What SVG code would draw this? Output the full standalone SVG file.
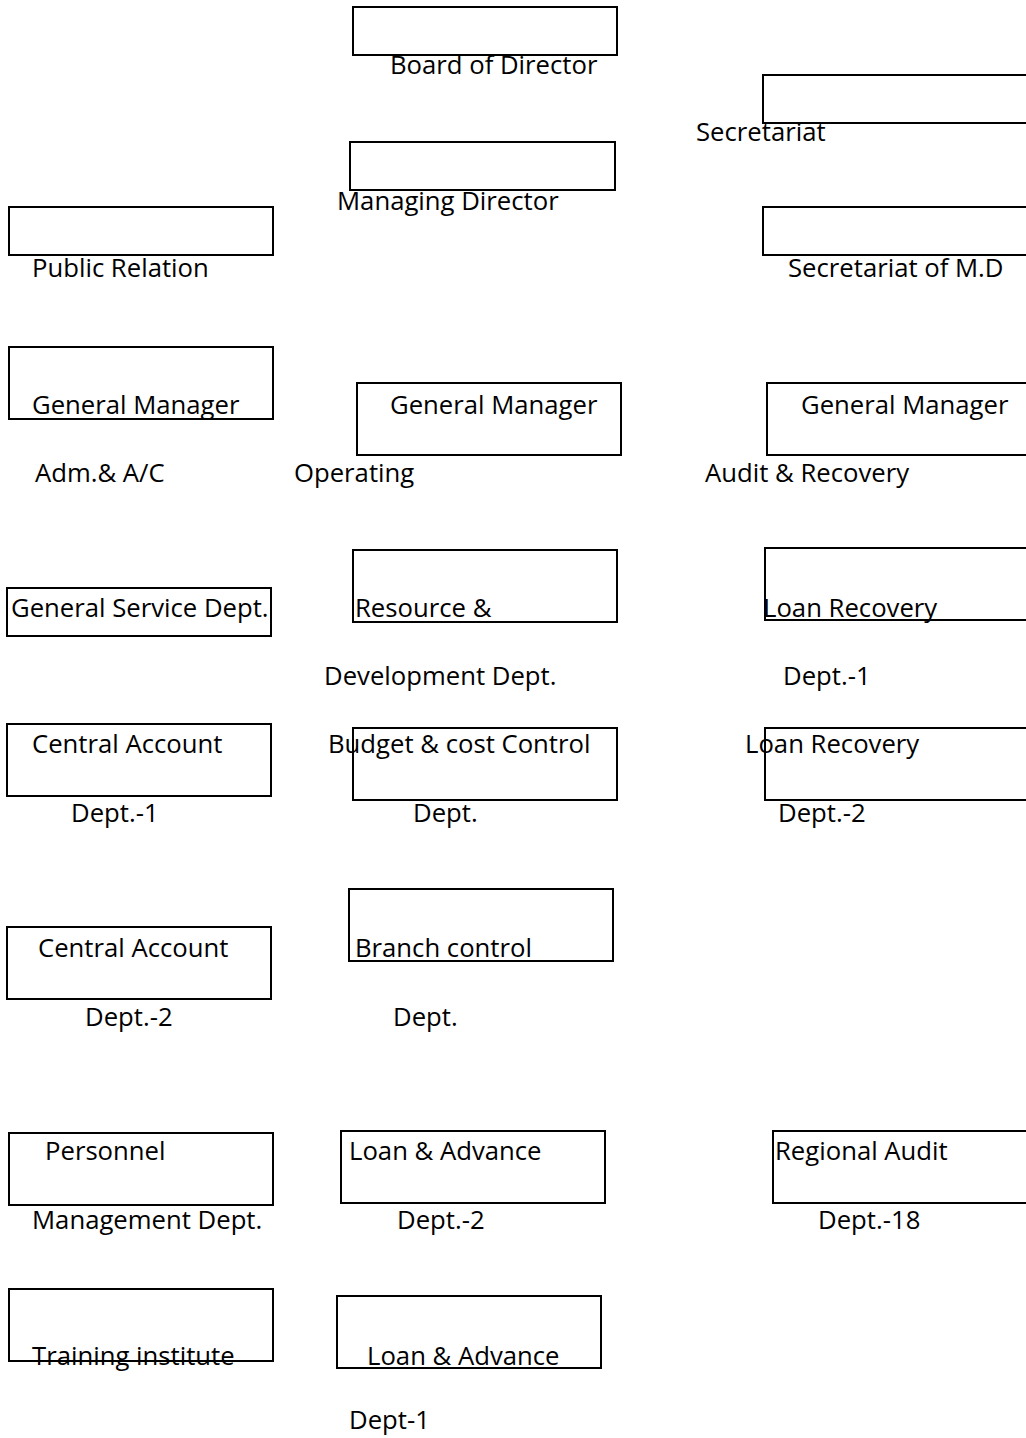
<svg xmlns="http://www.w3.org/2000/svg" width="1026" height="1438" viewBox="0 0 1026 1438">
<style>
  .box { fill: #ffffff; stroke: #000000; stroke-width: 2; }
  .lbl { font-family: "Open Sans", "Liberation Sans", sans-serif; font-size: 25.7px; fill: #000000; }
</style>
<rect x="0" y="0" width="1026" height="1438" fill="#ffffff"/>
<g id="connectors"></g>

<g id="board-of-director">
  <rect class="box" x="353" y="7" width="264" height="48"/>
  <text class="lbl" x="390" y="74">Board of Director</text>
</g>

<g id="secretariat">
  <rect class="box" x="763" y="75" width="280" height="48"/>
  <text class="lbl" x="696" y="141">Secretariat</text>
</g>

<g id="managing-director">
  <rect class="box" x="350" y="142" width="265" height="48"/>
  <text class="lbl" x="337" y="210">Managing Director</text>
</g>

<g id="public-relation">
  <rect class="box" x="9" y="207" width="264" height="48"/>
  <text class="lbl" x="32" y="277">Public Relation</text>
</g>

<g id="secretariat-md">
  <rect class="box" x="763" y="207" width="280" height="48"/>
  <text class="lbl" x="788" y="277">Secretariat of M.D</text>
</g>

<g id="gm-adm">
  <rect class="box" x="9" y="347" width="264" height="72"/>
  <text class="lbl" x="32" y="414">General Manager</text>
  <text class="lbl" x="35" y="482">Adm.&amp; A/C</text>
</g>

<g id="gm-operating">
  <rect class="box" x="357" y="383" width="264" height="72"/>
  <text class="lbl" x="390" y="414">General Manager</text>
  <text class="lbl" x="294" y="482">Operating</text>
</g>

<g id="gm-audit">
  <rect class="box" x="767" y="383" width="280" height="72"/>
  <text class="lbl" x="801" y="414">General Manager</text>
  <text class="lbl" x="705" y="482">Audit &amp; Recovery</text>
</g>

<g id="general-service">
  <rect class="box" x="7" y="588" width="264" height="48"/>
  <text class="lbl" x="11" y="617">General Service Dept.</text>
</g>

<g id="resource-development">
  <rect class="box" x="353" y="550" width="264" height="72"/>
  <text class="lbl" x="355" y="617">Resource &amp;</text>
  <text class="lbl" x="324" y="685">Development Dept.</text>
</g>

<g id="loan-recovery-1">
  <rect class="box" x="765" y="548" width="280" height="72"/>
  <text class="lbl" x="763" y="617">Loan Recovery</text>
  <text class="lbl" x="783" y="685">Dept.-1</text>
</g>

<g id="central-account-1">
  <rect class="box" x="7" y="724" width="264" height="72"/>
  <text class="lbl" x="32" y="753">Central Account</text>
  <text class="lbl" x="71" y="822">Dept.-1</text>
</g>

<g id="budget-cost-control">
  <rect class="box" x="353" y="728" width="264" height="72"/>
  <text class="lbl" x="328" y="753">Budget &amp; cost Control</text>
  <text class="lbl" x="413" y="822">Dept.</text>
</g>

<g id="loan-recovery-2">
  <rect class="box" x="765" y="728" width="280" height="72"/>
  <text class="lbl" x="745" y="753">Loan Recovery</text>
  <text class="lbl" x="778" y="822">Dept.-2</text>
</g>

<g id="central-account-2">
  <rect class="box" x="7" y="927" width="264" height="72"/>
  <text class="lbl" x="38" y="957">Central Account</text>
  <text class="lbl" x="85" y="1026">Dept.-2</text>
</g>

<g id="branch-control">
  <rect class="box" x="349" y="889" width="264" height="72"/>
  <text class="lbl" x="355" y="957">Branch control</text>
  <text class="lbl" x="393" y="1026">Dept.</text>
</g>

<g id="personnel">
  <rect class="box" x="9" y="1133" width="264" height="72"/>
  <text class="lbl" x="45" y="1160">Personnel</text>
  <text class="lbl" x="32" y="1229">Management Dept.</text>
</g>

<g id="loan-advance-2">
  <rect class="box" x="341" y="1131" width="264" height="72"/>
  <text class="lbl" x="349" y="1160">Loan &amp; Advance</text>
  <text class="lbl" x="397" y="1229">Dept.-2</text>
</g>

<g id="regional-audit">
  <rect class="box" x="773" y="1131" width="280" height="72"/>
  <text class="lbl" x="775" y="1160">Regional Audit</text>
  <text class="lbl" x="818" y="1229">Dept.-18</text>
</g>

<g id="training-institute">
  <rect class="box" x="9" y="1289" width="264" height="72"/>
  <text class="lbl" x="32" y="1365">Training institute</text>
</g>

<g id="loan-advance-1">
  <rect class="box" x="337" y="1296" width="264" height="72"/>
  <text class="lbl" x="367" y="1365">Loan &amp; Advance</text>
  <text class="lbl" x="349" y="1429">Dept-1</text>
</g>
</svg>
